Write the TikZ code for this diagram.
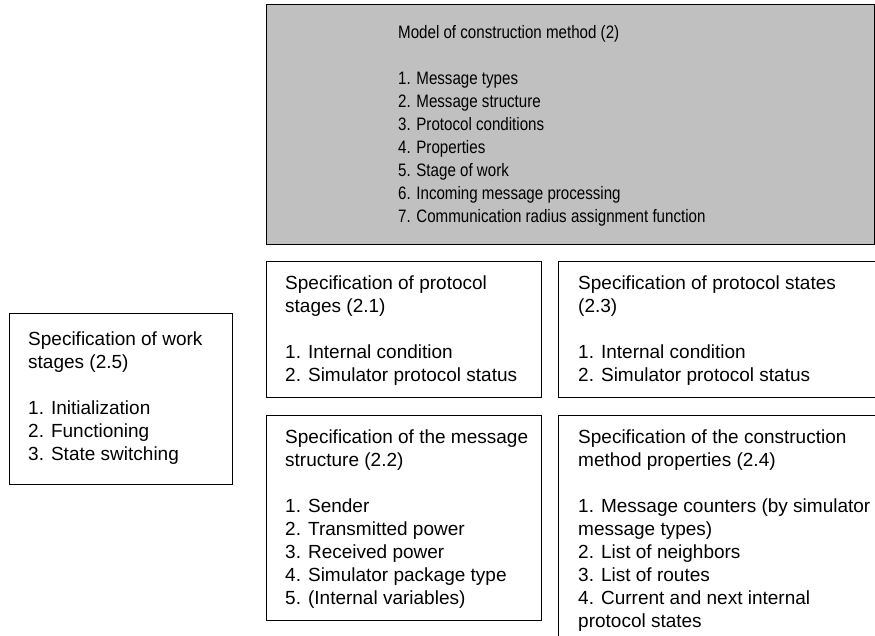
\documentclass[tikz,border=0pt]{standalone}
\usepackage{fontspec}
\usepackage{graphicx}
\setmainfont{Liberation Sans}
\usetikzlibrary{calc}
\definecolor{boxgray}{HTML}{C0C0C0}
\tikzset{
  frame/.style={draw=black, line width=1.3pt, inner sep=0pt, anchor=north west},
  modelbox/.style={frame, fill=boxgray},
  label/.style={anchor=north west, inner sep=0pt, align=left,
    font=\fontsize{19}{23}\selectfont},
  modellabel/.style={anchor=north west, inner sep=0pt,
    font=\fontsize{18}{23}\selectfont},
}
\newcommand{\firstline}{\rule{0pt}{15pt}}
\begin{document}
\begin{tikzpicture}[x=1pt, y=-1pt]
  \useasboundingbox (0,0) rectangle (875,636);
  \clip (0,0) rectangle (875,636);

  % frames
  \node[modelbox, minimum width=608pt, minimum height=240pt] (model) at (266,4) {};
  \node[frame, minimum width=223pt, minimum height=171pt] (work) at (9,313) {};
  \node[frame, minimum width=275pt, minimum height=136pt] (stages) at (266,261) {};
  \node[frame, minimum width=340pt, minimum height=136pt] (states) at (558,261) {};
  \node[frame, minimum width=275pt, minimum height=205pt] (msg) at (266,415) {};
  \node[frame, minimum width=340pt, minimum height=260pt] (props) at (558,415) {};

  % texts (the model list is set slightly condensed)
  \node[modellabel] (modeltext) at (398,21.9) {\scalebox{0.84}[1]{%
    \begin{tabular}{@{}l@{}}
    Model of construction method (2)\\[23pt]
    1. Message types\\
    2. Message structure\\
    3. Protocol conditions\\
    4. Properties\\
    5. Stage of work\\
    6. Incoming message processing\\
    7. Communication radius assignment function
    \end{tabular}}};

  \node[label] (worktext) at (28,330.5) {\firstline Specification of work\\
    stages (2.5)\\[23pt]
    1. Initialization\\
    2. Functioning\\
    3. State switching};

  \node[label] (stagestext) at (285,274.5) {\firstline Specification of protocol\\
    stages (2.1)\\[23pt]
    1. Internal condition\\
    2. Simulator protocol status};

  \node[label] (statestext) at (578,274.5) {\firstline Specification of protocol states\\
    (2.3)\\[23pt]
    1. Internal condition\\
    2. Simulator protocol status};

  \node[label] (msgtext) at (285,428.5) {\firstline Specification of the message\\
    structure (2.2)\\[23pt]
    1. Sender\\
    2. Transmitted power\\
    3. Received power\\
    4. Simulator package type\\
    5. (Internal variables)};

  \node[label] (propstext) at (578,428.5) {\firstline Specification of the construction\\
    method properties (2.4)\\[23pt]
    1. Message counters (by simulator\\
    message types)\\
    2. List of neighbors\\
    3. List of routes\\
    4. Current and next internal\\
    protocol states};
\end{tikzpicture}
\end{document}
